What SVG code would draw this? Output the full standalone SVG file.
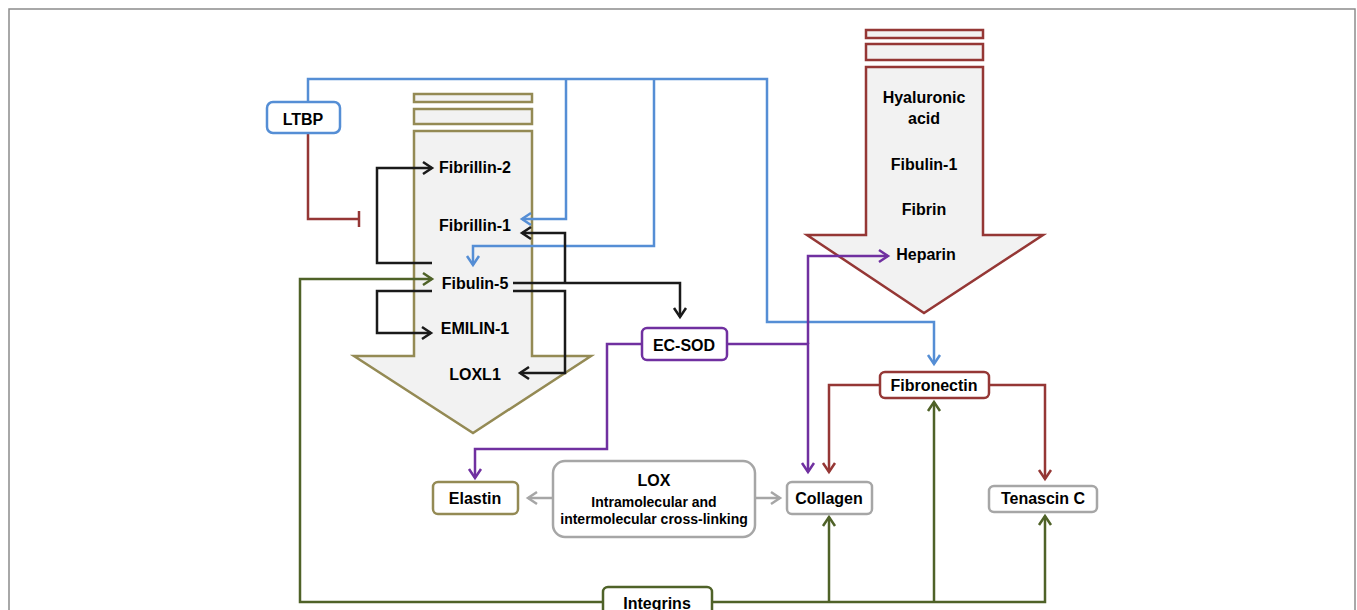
<svg xmlns="http://www.w3.org/2000/svg" width="1357" height="610" viewBox="0 0 1357 610">
<style>
text{font-family:"Liberation Sans",Arial,sans-serif;font-weight:bold;font-size:16px;fill:#000;text-anchor:middle}
.sm{font-size:14px}
.ln{fill:none;stroke-width:2.5}
.blue{stroke:#558ED5}
.red{stroke:#953735}
.blk{stroke:#1a1a1a}
.pur{stroke:#7030A0}
.gry{stroke:#A6A6A6}
.grn{stroke:#4F6228}
.box{fill:#fff;stroke-width:2.5}
.big{fill:#F2F2F2;stroke-width:2.5}
</style>
<defs>
<marker id="aBlue" markerUnits="userSpaceOnUse" markerWidth="20" markerHeight="20" refX="10" refY="7" orient="auto" overflow="visible"><path d="M1,1 L10,7 L1,13" fill="none" stroke="#558ED5" stroke-width="2.5"/></marker>
<marker id="aRed" markerUnits="userSpaceOnUse" markerWidth="20" markerHeight="20" refX="10" refY="7" orient="auto" overflow="visible"><path d="M1,1 L10,7 L1,13" fill="none" stroke="#953735" stroke-width="2.5"/></marker>
<marker id="aBlk" markerUnits="userSpaceOnUse" markerWidth="20" markerHeight="20" refX="10" refY="7" orient="auto" overflow="visible"><path d="M1,1 L10,7 L1,13" fill="none" stroke="#1a1a1a" stroke-width="2.5"/></marker>
<marker id="aPur" markerUnits="userSpaceOnUse" markerWidth="20" markerHeight="20" refX="10" refY="7" orient="auto" overflow="visible"><path d="M1,1 L10,7 L1,13" fill="none" stroke="#7030A0" stroke-width="2.5"/></marker>
<marker id="aGry" markerUnits="userSpaceOnUse" markerWidth="20" markerHeight="20" refX="10" refY="7" orient="auto" overflow="visible"><path d="M1,1 L10,7 L1,13" fill="none" stroke="#A6A6A6" stroke-width="2.5"/></marker>
<marker id="aGrn" markerUnits="userSpaceOnUse" markerWidth="20" markerHeight="20" refX="10" refY="7" orient="auto" overflow="visible"><path d="M1,1 L10,7 L1,13" fill="none" stroke="#4F6228" stroke-width="2.5"/></marker>
</defs>
<rect x="9" y="9" width="1346" height="640" fill="#fff" stroke="#8c8c8c" stroke-width="1.5"/>

<g id="elastic-fiber-arrow">
<rect class="big" x="414" y="94" width="118" height="8" stroke="#948A54"/>
<rect class="big" x="414" y="109" width="118" height="15" stroke="#948A54"/>
<polygon class="big" points="414,131 532,131 532,356 591,356 473,433 354,356 414,356" stroke="#948A54"/>
<text x="475" y="173">Fibrillin-2</text>
<text x="475" y="231">Fibrillin-1</text>
<text x="475" y="289">Fibulin-5</text>
<text x="475" y="334">EMILIN-1</text>
<text x="475" y="380">LOXL1</text>
</g>

<g id="matrix-arrow">
<rect class="big" x="866" y="30" width="117" height="8" stroke="#953735"/>
<rect class="big" x="866" y="44" width="117" height="16" stroke="#953735"/>
<polygon class="big" points="866,67 983,67 983,235 1043,235 924,313 807,235 866,235" stroke="#953735"/>
<text x="924" y="103">Hyaluronic</text>
<text x="924" y="124">acid</text>
<text x="924" y="170">Fibulin-1</text>
<text x="924" y="215">Fibrin</text>
<text x="926" y="260">Heparin</text>
</g>

<g id="connectors">
<path class="ln blue" d="M308,102 V79 H767 V322 H934 V364" marker-end="url(#aBlue)"/>
<path class="ln blue" d="M566,79 V219 H522" marker-end="url(#aBlue)"/>
<path class="ln blue" d="M654,79 V246 H473 V265" marker-end="url(#aBlue)"/>
<path class="ln red" d="M308,133 V219 H359"/>
<path class="ln red" d="M359,211 V227"/>
<path class="ln red" d="M880,385 H829 V472" marker-end="url(#aRed)"/>
<path class="ln red" d="M989,385 H1045 V479" marker-end="url(#aRed)"/>
<path class="ln blk" d="M432,263 H377 V168 H432" marker-end="url(#aBlk)"/>
<path class="ln blk" d="M432,291 H377 V333 H431" marker-end="url(#aBlk)"/>
<path class="ln blk" d="M513,283 H680 V317" marker-end="url(#aBlk)"/>
<path class="ln blk" d="M565,283 V233 H522" marker-end="url(#aBlk)"/>
<path class="ln blk" d="M513,291 H565 V373 H520" marker-end="url(#aBlk)"/>
<path class="ln pur" d="M642,344 H607 V449 H475 V478" marker-end="url(#aPur)"/>
<path class="ln pur" d="M727,344 H808 V472" marker-end="url(#aPur)"/>
<path class="ln pur" d="M808,344 V256 H888" marker-end="url(#aPur)"/>
<path class="ln gry" d="M553,498 H528" marker-end="url(#aGry)"/>
<path class="ln gry" d="M755,498 H780" marker-end="url(#aGry)"/>
<path class="ln grn" d="M603,602 H300 V279 H432" marker-end="url(#aGrn)"/>
<path class="ln grn" d="M712,602 H1045 V516" marker-end="url(#aGrn)"/>
<path class="ln grn" d="M829,602 V517" marker-end="url(#aGrn)"/>
<path class="ln grn" d="M934,602 V402" marker-end="url(#aGrn)"/>
</g>

<g id="ltbp">
<rect class="box" x="267" y="102" width="73" height="31" rx="6" stroke="#558ED5"/>
<text x="303" y="125">LTBP</text>
</g>
<g id="ec-sod">
<rect class="box" x="642" y="328" width="85" height="32" rx="5" stroke="#7030A0"/>
<text x="684" y="351">EC-SOD</text>
</g>
<g id="fibronectin">
<rect class="box" x="880" y="372" width="109" height="26" rx="5" stroke="#953735"/>
<text x="934" y="391">Fibronectin</text>
</g>
<g id="elastin">
<rect class="box" x="433" y="482" width="85" height="32" rx="5" stroke="#948A54"/>
<text x="475" y="504">Elastin</text>
</g>
<g id="lox">
<rect class="box" x="553" y="461" width="202" height="76" rx="12" stroke="#A6A6A6"/>
<text x="654" y="486">LOX</text>
<text class="sm" x="654" y="507">Intramolecular and</text>
<text class="sm" x="654" y="524">intermolecular cross-linking</text>
</g>
<g id="collagen">
<rect class="box" x="787" y="482" width="85" height="32" rx="5" stroke="#A6A6A6"/>
<text x="829" y="504">Collagen</text>
</g>
<g id="tenascin-c">
<rect class="box" x="989" y="486" width="108" height="26" rx="5" stroke="#A6A6A6"/>
<text x="1043" y="504">Tenascin C</text>
</g>
<g id="integrins">
<rect class="box" x="603" y="587" width="109" height="40" rx="5" stroke="#4F6228"/>
<text x="657" y="609">Integrins</text>
</g>
</svg>
